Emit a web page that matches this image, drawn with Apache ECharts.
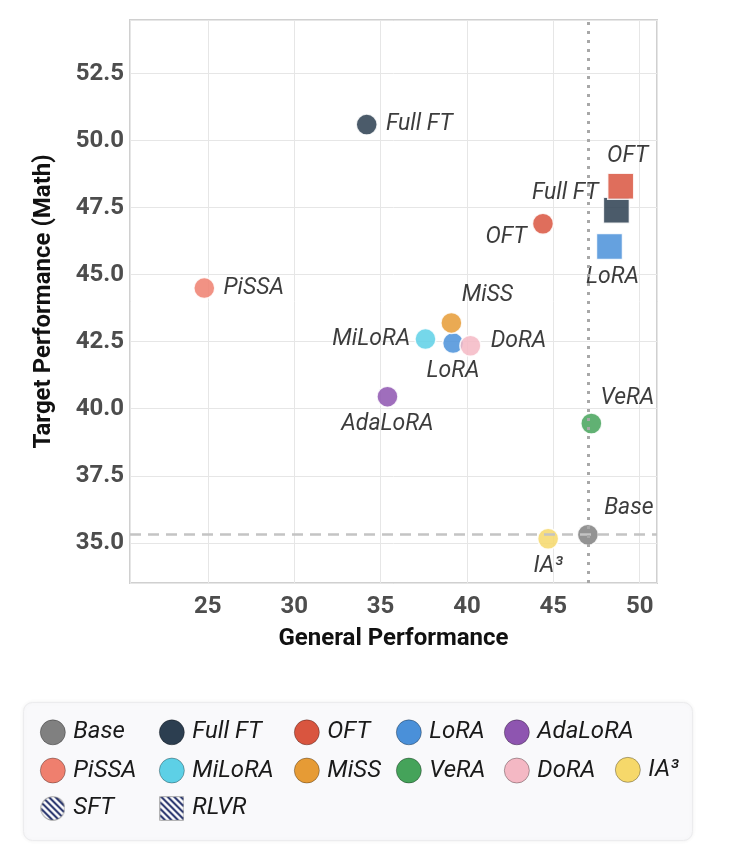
<!DOCTYPE html>
<html>
<head>
<meta charset="utf-8">
<script src="https://cdn.jsdelivr.net/npm/echarts@6/dist/echarts.min.js"></script>
<style>
  html, body { margin: 0; padding: 0; background: #fff; }
  #chart { width: 736px; height: 866px; }
</style>
</head>
<body>
<div id="chart"></div>
<script>
// methods (legend order)
const methods = ['Base', 'Full FT', 'OFT', 'LoRA', 'AdaLoRA', 'PiSSA', 'MiLoRA', 'MiSS', 'VeRA', 'DoRA', 'IA³']

// SFT runs (circles)
const sftMethods = ['Base', 'Full FT', 'OFT', 'LoRA', 'AdaLoRA', 'PiSSA', 'MiLoRA', 'MiSS', 'VeRA', 'DoRA', 'IA³']
const sftGeneral = [47.0, 34.2, 44.4, 39.2, 35.4, 24.8, 37.6, 39.1, 47.2, 40.2, 44.7]
const sftTarget = [35.3, 50.6, 46.9, 42.45, 40.45, 44.5, 42.6, 43.2, 39.45, 42.35, 35.15]

// RLVR runs (squares)
const rlvrMethods = ['OFT', 'Full FT', 'LoRA']
const rlvrGeneral = [48.9, 48.65, 48.25]
const rlvrTarget = [48.3, 47.4, 46.05]

// reference lines come from the base model
const baseGeneral = sftGeneral[0]
const baseTarget = sftTarget[0]

const colors = {
	'Base': '#808080',
	'Full FT': '#2c3e50',
	'OFT': '#d9553f',
	'LoRA': '#4a90d9',
	'AdaLoRA': '#8e55b0',
	'PiSSA': '#ef7f6e',
	'MiLoRA': '#5dd0e6',
	'MiSS': '#e69b35',
	'VeRA': '#45a35a',
	'DoRA': '#f4b8c4',
	'IA³': '#f6d86a'
}

// where each point's label sits
const sftLabel = {
	'Base': { position: 'top', offset: [41, 1] },
	'Full FT': { position: 'right', distance: 8 },
	'OFT': { position: 'left', offset: [0, 13] },
	'LoRA': { position: 'bottom' },
	'AdaLoRA': { position: 'bottom' },
	'PiSSA': { position: 'right', distance: 8 },
	'MiLoRA': { position: 'left', distance: 4 },
	'MiSS': { position: 'top', offset: [36, 0] },
	'VeRA': { position: 'top', offset: [36, 3] },
	'DoRA': { position: 'right', distance: 9, offset: [0, -4] },
	'IA³': { position: 'bottom' }
}
const rlvrLabel = {
	'OFT': { position: 'top', offset: [7, 0] },
	'Full FT': { position: 'left', distance: 4, offset: [0, -17] },
	'LoRA': { position: 'bottom', offset: [3, 0] }
}

const font = 'Roboto, "DejaVu Sans", sans-serif'

// hatched legend icon for the SFT / RLVR marker shapes
function hatchIcon(shape) {
	const s = 50
	const c = document.createElement('canvas')
	c.width = c.height = s
	const g = c.getContext('2d')
	const outline = () => {
		g.beginPath()
		if (shape === 'circle') g.arc(s / 2, s / 2, s / 2 - 1.5, 0, Math.PI * 2)
		else g.rect(1.5, 1.5, s - 3, s - 3)
	}
	g.save()
	outline()
	g.fillStyle = '#fff'
	g.fill()
	g.clip()
	g.strokeStyle = '#1d2a66'
	g.lineWidth = 4
	for (let k = -s; k < s * 2; k += 13) {
		g.beginPath()
		g.moveTo(k, 0)
		g.lineTo(k + s, s)
		g.stroke()
	}
	g.restore()
	outline()
	g.strokeStyle = '#888'
	g.lineWidth = 1.5
	g.stroke()
	return 'image://' + c.toDataURL()
}

const node = document.getElementById('chart')
const myChart = echarts.init(node, null, { renderer: 'canvas' })

const series = methods.map((m) => {
	const data = []
	const si = sftMethods.indexOf(m)
	if (si >= 0) {
		data.push({
			value: [sftGeneral[si], sftTarget[si]],
			symbol: 'circle',
			symbolSize: 21,
			label: sftLabel[m]
		})
	}
	const ri = rlvrMethods.indexOf(m)
	if (ri >= 0) {
		data.push({
			value: [rlvrGeneral[ri], rlvrTarget[ri]],
			symbol: 'rect',
			symbolSize: 26,
			label: rlvrLabel[m]
		})
	}
	const s = {
		name: m,
		type: 'scatter',
		data: data,
		itemStyle: {
			color: colors[m],
			opacity: 0.85,
			borderColor: '#fff',
			borderWidth: 1.5
		},
		label: {
			show: true,
			formatter: '{a}',
			fontFamily: font,
			fontStyle: 'italic',
			fontSize: 23,
			color: '#1a1a1a'
		},
		emphasis: { disabled: true }
	}
	if (m === 'Base') {
		s.markLine = {
			silent: true,
			symbol: 'none',
			label: { show: false },
			data: [
				{ yAxis: baseTarget, lineStyle: { type: [11, 7], color: '#c4c4c4', width: 2.5 } },
				{ xAxis: baseGeneral, lineStyle: { type: [3, 6], color: '#a8a8a8', width: 3 } }
			]
		}
	}
	return s
})

series.push(
	{ name: 'SFT', type: 'scatter', data: [], itemStyle: { color: '#1d2a66' } },
	{ name: 'RLVR', type: 'scatter', data: [], itemStyle: { color: '#1d2a66' } }
)

const icons = { 'SFT': hatchIcon('circle'), 'RLVR': hatchIcon('rect') }

// legend laid out as a grid: one vertical legend per column
const legendCols = [
	['Base', 'PiSSA', 'SFT'],
	['Full FT', 'MiLoRA', 'RLVR'],
	['OFT', 'MiSS'],
	['LoRA', 'VeRA'],
	['AdaLoRA', 'DoRA'],
	['IA³']
]
const colLeft = [40, 159, 294, 396, 504, 615]
const rowTop = 719.5
const rowStep = 37.5

const legends = legendCols.map((col, i) => ({
	orient: 'vertical',
	left: colLeft[i],
	top: i === 5 ? rowTop + rowStep : rowTop,
	padding: 0,
	itemWidth: 25,
	itemHeight: 25,
	itemGap: rowStep - 25,
	selectedMode: false,
	itemStyle: { opacity: 1, borderColor: 'rgba(0,0,0,0.45)', borderWidth: 0.7 },
	textStyle: {
		fontFamily: font,
		fontStyle: 'italic',
		fontSize: 24,
		color: '#1a1a1a',
		padding: [0, 0, 0, 3]
	},
	data: col.map((name) => icons[name]
		? { name: name, icon: icons[name], itemStyle: { borderWidth: 0 } }
		: { name: name, icon: 'circle' })
}))

const option = {
	backgroundColor: '#fff',
	animation: false,
	graphic: [
		{
			type: 'rect',
			left: 23,
			top: 702,
			shape: { width: 669, height: 138, r: 9 },
			style: {
				fill: '#f9f9fb',
				stroke: '#ececee',
				lineWidth: 1,
				shadowBlur: 4,
				shadowColor: 'rgba(0,0,0,0.06)'
			},
			z: -1
		}
	],
	grid: {
		left: 130,
		right: 79,
		top: 20,
		bottom: 283,
		show: true,
		borderColor: '#d0d0d0',
		borderWidth: 2,
		backgroundColor: '#fff'
	},
	legend: legends,
	xAxis: {
		type: 'value',
		min: 20.5,
		max: 51,
		minInterval: 5,
		maxInterval: 5,
		name: 'General Performance',
		nameLocation: 'middle',
		nameGap: 44,
		nameTextStyle: { fontFamily: font, fontWeight: 'bold', fontSize: 24, color: '#111' },
		axisLine: { show: false },
		axisTick: { show: false },
		splitLine: { lineStyle: { color: '#e6e6e6', width: 1 } },
		axisLabel: {
			showMinLabel: false,
			showMaxLabel: false,
			margin: 12,
			fontFamily: font,
			fontWeight: 'bold',
			fontSize: 24,
			color: '#4d4d4d'
		}
	},
	yAxis: {
		type: 'value',
		min: 33.5,
		max: 54.5,
		minInterval: 2.5,
		maxInterval: 2.5,
		name: 'Target Performance (Math)',
		nameLocation: 'middle',
		nameGap: 74,
		nameTextStyle: { fontFamily: font, fontWeight: 'bold', fontSize: 24, color: '#111' },
		axisLine: { show: false },
		axisTick: { show: false },
		splitLine: { lineStyle: { color: '#e6e6e6', width: 1 } },
		axisLabel: {
			showMinLabel: false,
			showMaxLabel: false,
			margin: 6,
			fontFamily: font,
			fontWeight: 'bold',
			fontSize: 24,
			color: '#4d4d4d',
			formatter: (v) => v.toFixed(1)
		}
	},
	series: series
}

myChart.setOption(option)

window.addEventListener('resize', () => {
	myChart.resize()
})
</script>
</body>
</html>
